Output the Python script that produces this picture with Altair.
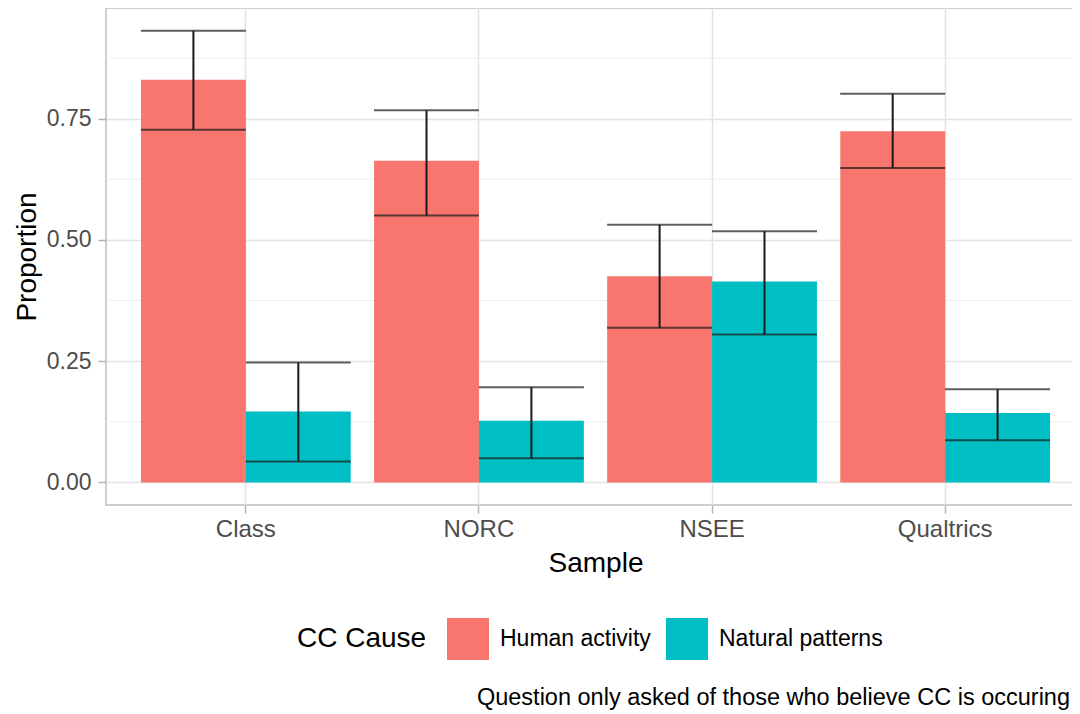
import altair as alt
import pandas as pd

samples = ["Class", "NORC", "NSEE", "Qualtrics"]
causes = ["Human activity", "Natural patterns"]
colors = ["#F8766D", "#00BFC4"]
human_prop = [0.830, 0.663, 0.425, 0.724]
human_lo = [0.727, 0.550, 0.319, 0.648]
human_hi = [0.931, 0.767, 0.531, 0.801]
natural_prop = [0.146, 0.127, 0.414, 0.143]
natural_lo = [0.043, 0.050, 0.305, 0.087]
natural_hi = [0.247, 0.196, 0.518, 0.192]
y_ticks = [0.0, 0.25, 0.5, 0.75]
y_minor = [0.125, 0.375, 0.625, 0.875]
caption_text = ["Question only asked of those who believe CC is occuring"]

rows = []
for i, s in enumerate(samples):
    rows.append(dict(Sample=s, Cause=causes[0], Proportion=human_prop[i], lo=human_lo[i], hi=human_hi[i]))
    rows.append(dict(Sample=s, Cause=causes[1], Proportion=natural_prop[i], lo=natural_lo[i], hi=natural_hi[i]))
df = pd.DataFrame(rows)
minor_df = pd.DataFrame({"v": y_minor})
cap_df = pd.DataFrame({"caption": caption_text})

W, H = 979, 497
FONT = "Liberation Sans"

y_scale = alt.Scale(domain=[-0.0466, 0.978], nice=False)
x_scale = alt.Scale(paddingInner=0.1, paddingOuter=0.15)
xo_scale = alt.Scale(paddingInner=0, paddingOuter=0)

x_axis = alt.Axis(title="Sample", labelAngle=0, tickSize=8, tickColor="#B3B3B3", tickWidth=1.5,
                  labelPadding=4, labelFontSize=24, labelColor="#4D4D4D", labelFont=FONT,
                  titleFont=FONT, titleFontSize=28, titleFontWeight="normal", titleColor="black",
                  titlePadding=8, domain=False, grid=True, gridColor="#E3E3E3", gridWidth=1.5)
y_axis = alt.Axis(title="Proportion", values=y_ticks, format=".2f", tickSize=8, tickColor="#B3B3B3",
                  tickWidth=1.5, labelPadding=7, labelFontSize=23, labelColor="#4D4D4D", labelFont=FONT,
                  titleFont=FONT, titleFontSize=28, titleFontWeight="normal", titleColor="black",
                  titlePadding=5, domain=False, grid=True, gridColor="#E3E3E3", gridWidth=1.5)

X = alt.X("Sample:N", sort=samples, scale=x_scale, axis=x_axis)
XO = alt.XOffset("Cause:N", sort=causes, scale=xo_scale)


def Y(field):
    return alt.Y(field, scale=y_scale, axis=y_axis, title="Proportion")


minor = alt.Chart(minor_df).mark_rule(color="#EEEEEE", strokeWidth=1).encode(
    y=Y("v:Q")
)

bars = alt.Chart(df).mark_bar().encode(
    x=X,
    xOffset=XO,
    y=alt.Y("Proportion:Q", scale=y_scale, axis=y_axis, stack=None, title="Proportion"),
    y2=alt.datum(0),
    color=alt.Color("Cause:N", sort=causes, scale=alt.Scale(domain=causes, range=colors),
                    legend=alt.Legend(title="CC Cause", orient="none", legendX=191, legendY=610,
                                      direction="horizontal", titleOrient="left", titleAnchor="middle",
                                      titleBaseline="middle", titleFont=FONT, titleFontSize=28,
                                      titleFontWeight="normal", titleColor="black", titlePadding=20,
                                      labelFont=FONT, labelFontSize=23, labelColor="black",
                                      labelLimit=400, labelOffset=11, columnPadding=15,
                                      symbolType="square", symbolSize=1764, symbolStrokeWidth=0,
                                      symbolOpacity=1, padding=0)),
)

err = alt.Chart(df).mark_rule(color="#1A1A1A", strokeWidth=2).encode(
    x=X, xOffset=XO,
    y=Y("lo:Q"),
    y2="hi:Q",
)
cap_lo = alt.Chart(df).mark_tick(color="#1A1A1A", thickness=2, size=105).encode(
    x=X, xOffset=XO, y=Y("lo:Q")
)
cap_hi = alt.Chart(df).mark_tick(color="#1A1A1A", thickness=2, size=105).encode(
    x=X, xOffset=XO, y=Y("hi:Q")
)

caption = alt.Chart(cap_df).mark_text(align="right", baseline="alphabetic", font=FONT, fontSize=23.5,
                                      color="black").encode(
    x=alt.value(W - 15), y=alt.value(697), text="caption:N"
)

chart = alt.layer(minor, bars, err, cap_lo, cap_hi, caption).properties(
    width=W, height=H,
    autosize=alt.AutoSizeParams(type="none"),
    padding={"left": 98, "top": 0, "right": -13, "bottom": 205},
).configure_view(stroke="#BFBFBF", strokeWidth=1.5)

chart.save("out.html", embed_options={"renderer": "svg", "actions": False})
